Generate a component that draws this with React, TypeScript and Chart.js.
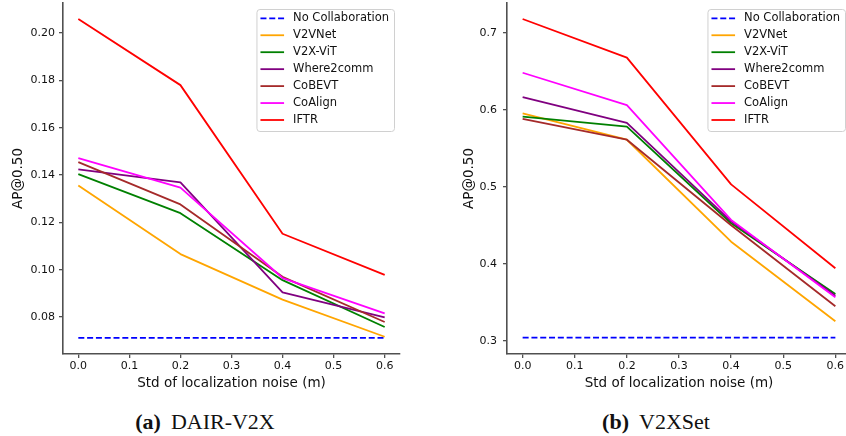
import React, { useEffect, useRef } from 'react';
import { Chart, registerables } from 'chart.js';
Chart.register(...registerables);

const FONT = '"DejaVu Sans", sans-serif';

// shared x values (std of localization noise)
const xVals = [0, 0.2, 0.4, 0.6];
const xTicks = [0, 0.1, 0.2, 0.3, 0.4, 0.5, 0.6];

const seriesNames = ['No Collaboration', 'V2VNet', 'V2X-ViT', 'Where2comm', 'CoBEVT', 'CoAlign', 'IFTR'];
const seriesColors = ['#0000FF', '#FFA500', '#008000', '#800080', '#A52A2A', '#FF00FF', '#FF0000'];

// (a) DAIR-V2X
const noCollabA = [0.0712, 0.0712, 0.0712, 0.0712];
const v2vnetA = [0.1356, 0.1066, 0.0874, 0.0717];
const v2xvitA = [0.1404, 0.1239, 0.0956, 0.0758];
const where2commA = [0.1424, 0.1369, 0.0904, 0.0799];
const cobevtA = [0.1455, 0.1276, 0.0970, 0.0779];
const coalignA = [0.1472, 0.1347, 0.0965, 0.0816];
const iftrA = [0.2059, 0.1780, 0.1152, 0.0978];
const yTicksA = [0.08, 0.10, 0.12, 0.14, 0.16, 0.18, 0.20];

// (b) V2XSet
const noCollabB = [0.304, 0.304, 0.304, 0.304];
const v2vnetB = [0.5952, 0.561, 0.4286, 0.3252];
const v2xvitB = [0.591, 0.578, 0.4525, 0.3607];
const where2commB = [0.6164, 0.583, 0.455, 0.3584];
const cobevtB = [0.588, 0.561, 0.450, 0.3447];
const coalignB = [0.648, 0.606, 0.4568, 0.3563];
const iftrB = [0.7178, 0.6676, 0.503, 0.394];
const yTicksB = [0.3, 0.4, 0.5, 0.6, 0.7];

const SPINE = '#505050';
const TXT = '#111';

const legendPlugin = {
  id: 'boxLegend',
  afterDatasetsDraw(chart: any) {
    const ctx = chart.ctx;
    const area = chart.chartArea;
    const ds = chart.data.datasets;
    ctx.save();
    ctx.font = `11.5px ${FONT}`;
    let maxW = 0;
    ds.forEach((d: any) => { maxW = Math.max(maxW, ctx.measureText(d.label).width); });
    const w = 36.6 + maxW + 5;
    const h = 122;
    const x = area.right - 6 - w;
    const y = area.top + 6;
    ctx.beginPath();
    (ctx as any).roundRect(x + 0.5, y + 0.5, w, h, 3);
    ctx.fillStyle = 'rgba(255,255,255,0.85)';
    ctx.fill();
    ctx.strokeStyle = '#d0d0d0';
    ctx.lineWidth = 1;
    ctx.stroke();
    ds.forEach((d: any, i: number) => {
      const cy = y + 9.3 + i * 16.95;
      ctx.beginPath();
      ctx.setLineDash(d.borderDash || []);
      ctx.strokeStyle = d.borderColor;
      ctx.lineWidth = 1.8;
      ctx.moveTo(x + 4, cy);
      ctx.lineTo(x + 27.6, cy);
      ctx.stroke();
      ctx.setLineDash([]);
      ctx.fillStyle = TXT;
      ctx.textBaseline = 'middle';
      ctx.textAlign = 'left';
      ctx.fillText(d.label, x + 36.6, cy);
    });
    ctx.restore();
  },
};

function buildConfig(
  values: number[][],
  yMin: number,
  yMax: number,
  yTicks: number[],
  decimals: number,
  yAxisWidth: number,
  yTitlePad: number,
  yTickPad: number,
  padRight: number
): any {
  const datasets = values.map((vals, i) => ({
    label: seriesNames[i],
    data: vals.map((v, j) => ({ x: xVals[j], y: v })),
    borderColor: seriesColors[i],
    backgroundColor: seriesColors[i],
    borderWidth: 1.8,
    borderDash: i === 0 ? [6, 2.8] : [],
    borderJoinStyle: 'round',
    pointRadius: 0,
    tension: 0,
    fill: false,
    order: values.length - i,
  }));
  const tickFont = { family: FONT, size: 11 };
  const titleFont = { family: FONT, size: 13.5 };
  return {
    type: 'line',
    data: { datasets },
    plugins: [legendPlugin],
    options: {
      responsive: false,
      animation: false,
      devicePixelRatio: 1,
      events: [],
      layout: { padding: { top: 3, right: padRight, left: 0, bottom: 0 } },
      plugins: { legend: { display: false }, tooltip: { enabled: false } },
      scales: {
        x: {
          type: 'linear',
          min: -0.03,
          max: 0.63,
          afterBuildTicks: (s: any) => { s.ticks = xTicks.map((v) => ({ value: v })); },
          afterFit: (s: any) => { s.height = 46; s.paddingLeft = 0; s.paddingRight = 0; },
          ticks: { font: tickFont, color: TXT, padding: 2, maxRotation: 0, callback: (v: number) => Number(v).toFixed(1) },
          grid: { drawOnChartArea: false, drawTicks: true, tickLength: 4, color: SPINE, tickColor: SPINE, lineWidth: 1.3 },
          border: { display: true, color: SPINE, width: 1.6 },
          title: { display: true, text: 'Std of localization noise (m)', font: titleFont, color: TXT, padding: { top: 0, bottom: 8 } },
        },
        y: {
          type: 'linear',
          min: yMin,
          max: yMax,
          afterBuildTicks: (s: any) => { s.ticks = yTicks.map((v) => ({ value: v })); },
          afterFit: (s: any) => { s.width = yAxisWidth; s.paddingTop = 0; s.paddingBottom = 0; },
          ticks: { font: tickFont, color: TXT, padding: yTickPad, callback: (v: number) => Number(v).toFixed(decimals) },
          grid: { drawOnChartArea: false, drawTicks: true, tickLength: 4, color: SPINE, tickColor: SPINE, lineWidth: 1.3 },
          border: { display: true, color: SPINE, width: 1.6 },
          title: { display: true, text: 'AP@0.50', font: titleFont, color: TXT, padding: { top: yTitlePad, bottom: 0 } },
        },
      },
    },
  };
}

const captionStyle: React.CSSProperties = {
  position: 'absolute',
  top: 411,
  width: 240,
  height: 22,
  lineHeight: '22px',
  fontFamily: '"Liberation Serif", serif',
  fontSize: 22,
  color: '#111',
  textAlign: 'center',
  whiteSpace: 'nowrap',
};

export default function App() {
  const refA = useRef<HTMLCanvasElement>(null);
  const refB = useRef<HTMLCanvasElement>(null);

  useEffect(() => {
    const a = new Chart(
      refA.current as HTMLCanvasElement,
      buildConfig([noCollabA, v2vnetA, v2xvitA, where2commA, cobevtA, coalignA, iftrA], 0.0644, 0.2127, yTicksA, 2, 63, 10, 4, 10)
    );
    const b = new Chart(
      refB.current as HTMLCanvasElement,
      buildConfig([noCollabB, v2vnetB, v2xvitB, where2commB, cobevtB, coalignB, iftrB], 0.2827, 0.7386, yTicksB, 1, 67, 21, 6, 9)
    );
    return () => { a.destroy(); b.destroy(); };
  }, []);

  return (
    <div style={{ position: 'fixed', left: 0, top: 0, width: 846, height: 436, overflow: 'hidden', background: '#fff' }}>
      <canvas ref={refA} width={410} height={400} style={{ position: 'absolute', left: 0, top: 0, width: 410, height: 400 }} />
      <canvas ref={refB} width={420} height={400} style={{ position: 'absolute', left: 440, top: 0, width: 420, height: 400 }} />
      <div style={{ ...captionStyle, left: 205 - 120 }}>
        <b>(a)</b><span style={{ marginLeft: 10 }}>DAIR-V2X</span>
      </div>
      <div style={{ ...captionStyle, left: 656 - 120 }}>
        <b>(b)</b><span style={{ marginLeft: 10 }}>V2XSet</span>
      </div>
    </div>
  );
}
